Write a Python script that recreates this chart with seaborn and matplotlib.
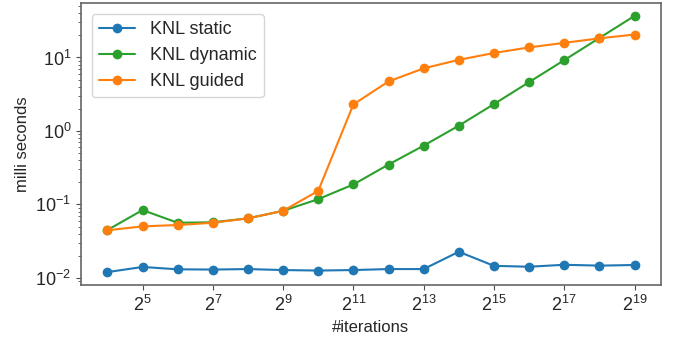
import numpy as np
import pandas as pd
import seaborn as sns
import matplotlib
matplotlib.use("Agg")
import matplotlib.pyplot as plt

sns.set_style("ticks")
plt.rcParams['font.family'] = ['Liberation Sans', 'DejaVu Sans']

# iterations (powers of two) and timings in milli seconds
iterations = [2 ** k for k in range(4, 20)]
knl_static = [0.0120, 0.0141, 0.0131, 0.0130, 0.0132, 0.0128, 0.0126, 0.0128,
              0.0132, 0.0132, 0.0227, 0.0146, 0.0142, 0.0151, 0.0147, 0.0150]
knl_dynamic = [0.0448, 0.0838, 0.0563, 0.0572, 0.0646, 0.0819, 0.118, 0.187,
               0.349, 0.631, 1.18, 2.32, 4.62, 9.19, 18.4, 36.8]
knl_guided = [0.0445, 0.0503, 0.0525, 0.0563, 0.0646, 0.0819, 0.153, 2.30,
              4.72, 7.10, 9.29, 11.5, 13.7, 15.8, 18.2, 20.5]

series = {"KNL static": (knl_static, "#1f77b4"),
          "KNL dynamic": (knl_dynamic, "#2ca02c"),
          "KNL guided": (knl_guided, "#ff7f0e")}

fig = plt.figure(figsize=(6.73, 3.4), dpi=100)
ax = fig.add_axes([0.1204, 0.162, 0.8616, 0.829])
ax.set_xscale('log', base=2)
ax.set_yscale('log')

for name, (vals, col) in series.items():
    df = pd.DataFrame({"iterations": iterations, "ms": vals})
    sns.lineplot(data=df, x="iterations", y="ms", ax=ax, color=col, marker='o',
                 markersize=7, markeredgewidth=0, linewidth=1.5, label=name)

ax.set_xticks([2 ** k for k in range(5, 20, 2)])
ax.xaxis.set_minor_locator(matplotlib.ticker.NullLocator())
ax.tick_params(axis='both', which='major', labelsize=13, color='0.3')
ax.tick_params(axis='y', which='minor', color='0.3')
for s in ax.spines.values():
    s.set_color('0.4')
    s.set_linewidth(1.2)

ax.set_xlabel("#iterations", fontsize=12)
ax.set_ylabel("milli seconds", fontsize=12)
ax.legend(loc='upper left', fontsize=13, borderaxespad=0.6)

fig.savefig("out.png", dpi=100)
